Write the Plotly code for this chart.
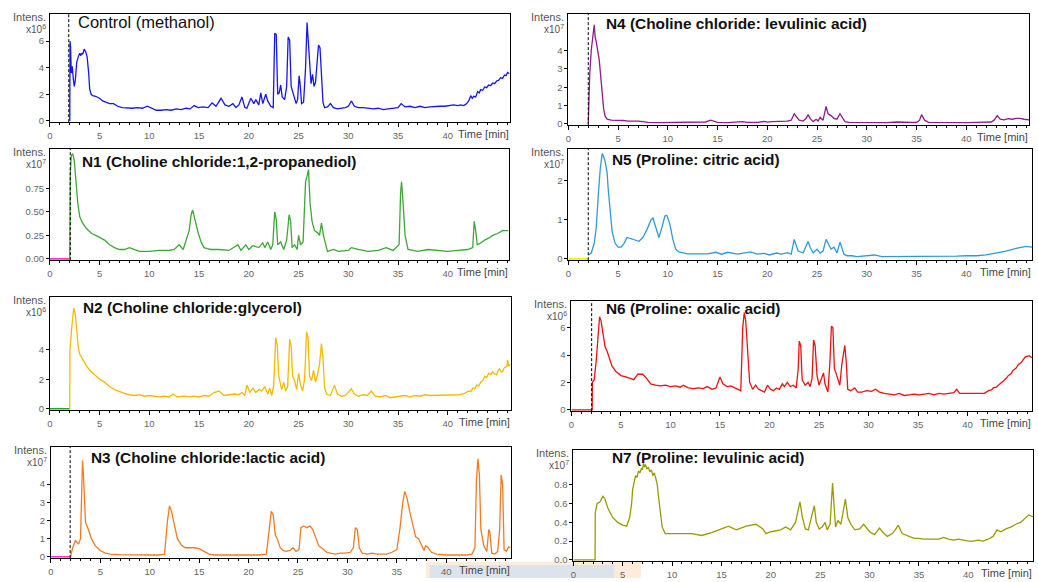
import plotly.graph_objects as go

# ---------------- data (retention time in min, intensity in axis units) ----------------
CONTROL_T = [
    2.0, 2.03, 2.08, 2.15, 2.25, 2.35, 2.45, 2.55, 2.7, 2.85,
    3.0, 3.1, 3.2, 3.3, 3.45, 3.6, 3.75, 3.9, 4.0, 4.15,
    4.3, 4.6, 5.0, 5.3, 5.7, 6.0, 6.4, 6.8, 7.3, 7.8,
    8.3, 8.8, 9.3, 9.8, 10.2, 10.7, 11.2, 11.7, 12.2, 12.7,
    13.2, 13.7, 14.1, 14.5, 14.9, 15.4, 15.9, 16.3, 16.7, 17.2,
    17.6, 18.0, 18.4, 18.7, 19.0, 19.3, 19.6, 19.8, 20.2, 20.5,
    20.7, 21.0, 21.2, 21.4, 21.7, 21.9, 22.2, 22.45, 22.6, 22.75,
    22.9, 23.05, 23.2, 23.35, 23.6, 23.8, 23.95, 24.1, 24.25, 24.5,
    24.75, 24.9, 25.05, 25.15, 25.3, 25.5, 25.7, 25.85, 25.95, 26.1,
    26.25, 26.4, 26.55, 26.7, 26.85, 27.0, 27.15, 27.3, 27.45, 27.6,
    27.9, 28.2, 28.5, 28.9, 29.3, 29.7, 30.0, 30.3, 30.6, 31.0,
    31.5, 32.0, 32.5, 33.0, 33.5, 34.0, 34.5, 35.0, 35.3, 35.7,
    36.2, 36.7, 37.2, 37.7, 38.2, 38.7, 39.2, 39.7, 40.2, 40.6,
    41.0, 41.3, 41.6, 41.9, 42.1, 42.3, 42.45, 42.6, 42.8, 43.0,
    43.15, 43.3, 43.5, 43.7, 43.9, 44.1, 44.3, 44.5, 44.7, 44.9,
    45.1, 45.3, 45.5, 45.7, 45.85, 46.0, 46.2]
CONTROL_Y = [
    0.0, 6.0, 5.6, 3.6, 4.1, 3.2, 2.6, 3.0, 4.4, 4.8,
    5.1, 4.9, 5.1, 5.0, 5.4, 5.2, 4.8, 3.6, 2.4, 2.0,
    1.9, 1.85, 1.7, 1.5, 1.4, 1.3, 1.3, 1.1, 1.0, 0.95,
    0.95, 1.0, 0.95, 1.1, 0.95, 0.8, 0.8, 0.85, 0.8, 0.9,
    0.85, 0.95, 0.9, 1.15, 1.0, 1.05, 1.0, 1.35, 1.1, 1.7,
    1.2, 1.1, 1.3, 1.0, 1.2, 1.8, 1.0, 0.95, 1.7, 1.3,
    1.6, 1.2, 2.1, 1.3, 2.0, 1.5, 1.1, 1.0, 6.6, 6.5,
    2.0, 2.1, 2.7, 1.8, 1.6, 2.6, 6.3, 6.1, 2.6, 2.0,
    1.3, 1.6, 3.4, 2.8, 1.3, 1.4, 4.0, 7.4, 6.2, 3.8,
    2.8, 3.5, 2.6, 2.9, 4.5, 5.7, 5.5, 3.0, 1.4, 1.0,
    1.05, 1.3, 1.0, 0.9, 0.95, 1.0, 1.1, 1.5, 1.1, 1.0,
    1.0, 0.95, 0.9, 0.95, 0.85, 0.9, 0.95, 1.0, 1.3, 1.05,
    1.1, 1.0, 1.1, 1.0, 1.05, 1.1, 1.1, 1.1, 1.15, 1.2,
    1.15, 1.2, 1.15, 1.3, 1.5, 1.9, 1.7, 1.85, 1.8, 2.2,
    2.1, 2.35, 2.3, 2.55, 2.5, 2.7, 2.65, 2.85, 2.8, 3.0,
    3.05, 3.25, 3.2, 3.45, 3.4, 3.65, 3.55]

N4_T = [
    2.0, 2.05, 2.15, 2.3, 2.45, 2.6, 2.7, 2.8, 2.95, 3.1,
    3.25, 3.4, 3.55, 3.7, 3.9, 4.3, 5.0, 5.5, 6.0, 6.5,
    7.0, 7.5, 8.0, 9.0, 10.0, 11.0, 12.0, 13.0, 13.8, 14.3,
    14.6, 15.0, 16.0, 17.0, 17.5, 18.0, 19.0, 19.7, 20.0, 20.5,
    21.0, 21.5, 22.0, 22.4, 22.7, 22.9, 23.2, 23.6, 23.9, 24.1,
    24.3, 24.6, 24.9, 25.1, 25.3, 25.6, 25.9, 26.1, 26.4, 26.7,
    27.0, 27.3, 27.5, 27.8, 28.2, 29.0, 30.0, 31.0, 32.0, 33.0,
    33.5, 34.0, 34.5, 35.0, 35.3, 35.5, 35.8, 36.2, 37.0, 38.0,
    39.0, 40.0, 41.0, 42.0, 42.5, 42.8, 43.1, 43.4, 43.8, 44.2,
    44.6, 45.0, 45.4, 45.8, 46.3]
N4_Y = [
    0.0, 1.5, 2.7, 4.0, 4.6, 5.4, 4.7, 4.5, 4.0, 3.5,
    2.6, 1.6, 0.8, 0.4, 0.25, 0.2, 0.2, 0.18, 0.15, 0.17,
    0.15, 0.12, 0.08, 0.07, 0.08, 0.07, 0.07, 0.08, 0.1, 0.2,
    0.15, 0.08, 0.07, 0.08, 0.12, 0.08, 0.08, 0.13, 0.09, 0.12,
    0.13, 0.12, 0.15, 0.2, 0.55, 0.4, 0.2, 0.15, 0.3, 0.5,
    0.3, 0.12, 0.25, 0.15, 0.35, 0.2, 0.95, 0.55, 0.45, 0.3,
    0.25, 0.55, 0.4, 0.12, 0.08, 0.07, 0.07, 0.08, 0.07, 0.1,
    0.08, 0.07, 0.08, 0.08, 0.2, 0.5, 0.2, 0.08, 0.07, 0.07,
    0.08, 0.07, 0.08, 0.08, 0.1, 0.2, 0.45, 0.25, 0.22, 0.28,
    0.25, 0.3, 0.3, 0.25, 0.22]

N1_T = [
    2.0, 2.05, 2.15, 2.3, 2.45, 2.6, 2.8, 3.0, 3.3, 3.7,
    4.2, 4.8, 5.5, 6.0, 6.5, 7.0, 7.5, 8.0, 8.5, 9.0,
    10.0, 11.0, 12.0, 12.5, 13.0, 13.4, 14.0, 14.2, 14.35, 14.6,
    14.9, 15.2, 15.5, 15.8, 16.2, 17.0, 18.0, 18.9, 19.2, 19.7,
    20.0, 20.4, 21.0, 21.4, 21.6, 21.9, 22.2, 22.4, 22.6, 22.75,
    22.9, 23.2, 23.5, 23.8, 24.05, 24.2, 24.35, 24.6, 24.85, 25.0,
    25.2, 25.45, 25.7, 25.85, 26.0, 26.15, 26.35, 26.6, 26.9, 27.1,
    27.3, 27.5, 27.7, 27.9, 28.5, 29.0, 30.0, 30.3, 31.0, 32.0,
    33.0, 33.8, 34.5, 35.1, 35.25, 35.35, 35.5, 35.7, 36.0, 37.0,
    38.0, 39.0, 40.0, 41.0, 42.0, 42.5, 42.65, 42.8, 42.95, 43.3,
    43.7, 44.1, 44.5, 45.0, 45.5, 46.1]
N1_Y = [
    0.0, 0.9, 1.1, 1.12, 1.05, 0.85, 0.6, 0.45, 0.38, 0.32,
    0.27, 0.24, 0.2, 0.15, 0.12, 0.1, 0.1, 0.12, 0.1, 0.08,
    0.08, 0.09, 0.09, 0.1, 0.15, 0.1, 0.3, 0.47, 0.52, 0.4,
    0.28, 0.18, 0.12, 0.11, 0.1, 0.1, 0.09, 0.15, 0.09, 0.15,
    0.1, 0.14, 0.12, 0.17, 0.12, 0.18, 0.1, 0.15, 0.5, 0.42,
    0.15, 0.18, 0.1, 0.2, 0.47, 0.4, 0.12, 0.15, 0.1, 0.25,
    0.15, 0.18, 0.82, 0.88, 0.95, 0.6, 0.4, 0.3, 0.28, 0.25,
    0.38, 0.25, 0.15, 0.08, 0.1, 0.08, 0.09, 0.12, 0.1, 0.08,
    0.09, 0.12, 0.09, 0.15, 0.7, 0.82, 0.6, 0.25, 0.1, 0.08,
    0.1, 0.09, 0.08, 0.09, 0.1, 0.12, 0.4, 0.3, 0.15, 0.17,
    0.2, 0.22, 0.25, 0.27, 0.3, 0.3]

N5_T = [
    2.0, 2.3, 2.6, 2.8, 3.0, 3.2, 3.4, 3.5, 3.7, 3.9,
    4.0, 4.2, 4.4, 4.7, 5.0, 5.3, 5.6, 5.9, 6.3, 6.7,
    7.1, 7.5, 7.9, 8.3, 8.5, 8.8, 9.1, 9.4, 9.7, 9.9,
    10.2, 10.5, 10.8, 11.1, 11.5, 12.0, 13.0, 14.0, 14.8, 15.4,
    16.0, 17.0, 17.6, 18.3, 19.0, 19.7, 20.2, 20.9, 21.4, 22.0,
    22.4, 22.7, 22.9, 23.1, 23.6, 24.1, 24.3, 24.6, 25.0, 25.3,
    25.6, 25.9, 26.1, 26.4, 26.7, 27.0, 27.3, 27.5, 27.7, 28.0,
    28.5, 29.0, 30.0, 30.8, 31.5, 32.0, 33.0, 34.0, 35.0, 36.0,
    37.0, 38.0, 39.0, 40.0, 41.0, 42.0, 43.0, 44.0, 45.0, 46.0,
    46.6]
N5_Y = [
    0.1, 0.15, 0.4, 0.8, 1.6, 2.3, 2.7, 2.65, 2.5, 2.2,
    1.8, 1.2, 0.7, 0.4, 0.3, 0.3, 0.4, 0.55, 0.52, 0.5,
    0.45, 0.55, 0.75, 1.0, 1.05, 0.8, 0.55, 0.8, 1.1, 1.12,
    0.9, 0.5, 0.25, 0.18, 0.15, 0.13, 0.13, 0.13, 0.17, 0.12,
    0.17, 0.12, 0.15, 0.18, 0.12, 0.14, 0.1, 0.15, 0.12, 0.16,
    0.12, 0.5, 0.35, 0.2, 0.15, 0.45, 0.3, 0.15, 0.25, 0.15,
    0.2, 0.5, 0.4, 0.25, 0.3, 0.15, 0.43, 0.3, 0.12, 0.08,
    0.08, 0.06, 0.08, 0.1, 0.06, 0.06, 0.06, 0.06, 0.06, 0.06,
    0.06, 0.07, 0.07, 0.08, 0.08, 0.1, 0.15, 0.2, 0.27, 0.32,
    0.3]

N2_T = [
    2.0, 2.02, 2.2, 2.4, 2.55, 2.7, 2.85, 3.0, 3.3, 3.6,
    4.0, 4.5, 5.0, 5.5, 6.0, 6.5, 7.0, 7.5, 8.0, 8.5,
    9.0, 9.5, 10.0, 10.5, 11.0, 11.5, 12.0, 12.4, 12.8, 13.5,
    14.0, 14.5, 15.0, 15.5, 16.0, 16.5, 17.0, 17.5, 18.0, 18.5,
    19.0, 19.3, 19.6, 19.8, 20.1, 20.4, 20.7, 21.0, 21.3, 21.6,
    21.9, 22.1, 22.3, 22.5, 22.7, 22.85, 23.0, 23.3, 23.5, 23.7,
    23.9, 24.1, 24.25, 24.4, 24.6, 24.8, 25.0, 25.2, 25.4, 25.6,
    25.8, 25.95, 26.1, 26.3, 26.5, 26.7, 26.9, 27.1, 27.3, 27.45,
    27.6, 27.8, 28.2, 28.6, 28.9, 29.3, 29.7, 30.1, 30.3, 30.6,
    31.0, 31.5, 31.9, 32.3, 32.7, 33.2, 33.7, 34.2, 34.7, 35.2,
    35.7, 36.2, 36.7, 37.2, 37.7, 38.2, 38.7, 39.2, 39.7, 40.2,
    40.7, 41.2, 41.7, 41.9, 42.1, 42.3, 42.5, 42.7, 42.9, 43.1,
    43.3, 43.5, 43.7, 43.9, 44.1, 44.3, 44.5, 44.7, 44.9, 45.05,
    45.2, 45.35, 45.5, 45.65, 45.8, 45.95, 46.0, 46.1, 46.3]
N2_Y = [
    0.0, 4.0, 5.5, 6.8, 6.4, 5.2, 4.2, 3.7, 3.3, 3.0,
    2.6, 2.3, 2.0, 1.8, 1.5, 1.3, 1.15, 1.05, 0.95, 0.9,
    0.95, 0.85, 0.9, 0.85, 0.8, 0.85, 0.8, 1.0, 0.8, 0.85,
    0.8, 0.85, 0.8, 0.9, 0.85, 1.1, 1.2, 0.9, 0.95, 1.0,
    0.95, 1.1, 0.9, 1.6, 1.1, 1.4, 1.1, 1.3, 1.2, 1.5,
    1.0, 1.4, 0.9, 1.6, 4.8, 4.3, 2.2, 1.3, 1.8, 1.2,
    1.5, 4.7, 4.2, 2.2, 1.9, 1.3, 2.4, 1.6, 1.2, 2.0,
    5.2, 4.8, 2.2, 1.9, 2.6, 1.8, 2.3, 3.0, 4.4, 3.5,
    1.5, 1.0, 0.9, 1.6, 1.0, 0.85, 0.9, 1.2, 1.35, 1.0,
    0.85, 0.95, 0.9, 1.2, 0.85, 0.8, 0.9, 0.75, 0.8, 0.85,
    0.9, 0.8, 0.9, 0.85, 0.95, 0.9, 0.9, 0.95, 0.9, 0.9,
    0.95, 0.95, 1.05, 1.1, 1.2, 1.15, 1.4, 1.35, 1.6, 1.55,
    1.8, 1.9, 2.2, 2.1, 2.4, 2.3, 2.5, 2.35, 2.3, 2.6,
    2.7, 2.5, 2.5, 2.75, 2.8, 2.9, 3.3, 2.9, 3.0]

N6_T = [
    0.0, 2.1, 2.12, 2.3, 2.5, 2.7, 2.85, 3.0, 3.2, 3.4,
    3.6, 3.8, 4.1, 4.5, 5.0, 5.5, 6.0, 6.3, 6.7, 7.2,
    7.6, 8.0, 8.5, 9.0, 9.5, 10.0, 10.5, 11.0, 11.3, 11.8,
    12.3, 12.8, 13.3, 13.7, 14.2, 14.6, 15.0, 15.3, 15.7, 16.1,
    16.5, 16.9, 17.1, 17.3, 17.45, 17.6, 17.8, 18.0, 18.3, 18.6,
    18.9, 19.2, 19.5, 19.8, 20.1, 20.4, 20.7, 21.0, 21.3, 21.5,
    21.8, 22.1, 22.4, 22.7, 22.9, 23.0, 23.15, 23.3, 23.6, 23.9,
    24.1, 24.3, 24.45, 24.6, 24.8, 25.0, 25.3, 25.45, 25.6, 25.9,
    26.1, 26.25, 26.4, 26.55, 26.7, 26.9, 27.1, 27.3, 27.5, 27.6,
    27.75, 27.9, 28.2, 28.6, 28.9, 29.3, 29.8, 30.3, 30.7, 31.1,
    31.6, 32.1, 32.6, 33.1, 33.6, 34.1, 34.6, 35.1, 35.6, 36.1,
    36.6, 37.1, 37.6, 38.1, 38.6, 38.9, 39.2, 39.7, 40.2, 40.7,
    41.2, 41.7, 42.1, 42.4, 42.6, 42.9, 43.1, 43.4, 43.6, 43.9,
    44.1, 44.4, 44.6, 44.9, 45.1, 45.4, 45.6, 45.8, 46.0, 46.2,
    46.5]
N6_Y = [
    0.0, 0.0, 2.0, 2.2, 3.5, 5.5, 6.8, 6.5, 5.5, 4.6,
    4.3, 3.8, 3.2, 2.8, 2.5, 2.4, 2.3, 2.2, 2.6, 2.6,
    2.3, 1.9, 1.8, 1.75, 1.8, 1.7, 1.75, 1.65, 1.8, 1.6,
    1.55, 1.6, 1.55, 1.7, 1.5, 1.6, 2.4, 1.9, 1.7, 1.75,
    1.6, 1.5, 1.4, 6.0, 7.1, 6.5, 4.0, 2.0, 1.5, 1.8,
    1.5, 1.4, 1.3, 1.8, 1.5, 1.4, 1.6, 1.5, 1.9, 1.7,
    2.0, 1.7, 1.8, 1.6, 3.0, 5.0, 4.7, 2.2, 1.8, 2.0,
    1.7, 2.3, 5.1, 4.7, 2.5, 1.8, 2.4, 2.7, 1.9, 1.3,
    3.5, 6.1, 6.0, 3.0, 2.7, 2.2, 1.8, 3.3, 4.3, 4.7,
    3.5, 1.5, 1.4, 1.6, 1.3, 1.3, 1.4, 1.35, 1.5, 1.3,
    1.2, 1.15, 1.1, 1.2, 1.05, 1.1, 1.15, 1.1, 1.15, 1.2,
    1.1, 1.2, 1.15, 1.2, 1.25, 1.5, 1.2, 1.2, 1.2, 1.2,
    1.25, 1.2, 1.4, 1.45, 1.6, 1.65, 1.8, 1.95, 2.1, 2.3,
    2.5, 2.65, 2.9, 3.05, 3.3, 3.45, 3.7, 3.85, 3.9, 3.95,
    3.8]

N3_T = [
    2.0, 2.2, 2.5, 2.8, 3.0, 3.1, 3.2, 3.3, 3.4, 3.5,
    3.8, 4.1, 4.5, 5.0, 5.5, 6.0, 7.0, 8.0, 9.0, 10.0,
    11.0, 11.5, 11.8, 12.0, 12.2, 12.5, 12.8, 13.2, 13.6, 14.0,
    14.5, 15.0, 15.5, 16.0, 16.5, 17.0, 18.0, 19.0, 20.0, 21.0,
    21.8, 22.1, 22.3, 22.5, 22.7, 22.9, 23.2, 23.5, 23.8, 24.2,
    24.5, 24.8, 25.1, 25.3, 25.6, 25.9, 26.2, 26.5, 26.8, 27.1,
    27.5, 27.9, 28.3, 28.8, 29.3, 29.8, 30.3, 30.6, 30.8, 31.0,
    31.2, 31.5, 32.0, 32.5, 33.0, 34.0, 34.5, 35.0, 35.3, 35.6,
    35.8, 36.0, 36.3, 36.6, 36.9, 37.2, 37.5, 37.75, 37.9, 38.1,
    38.5, 39.0, 40.0, 41.0, 42.0, 42.6, 42.9, 43.05, 43.2, 43.35,
    43.5, 43.8, 44.1, 44.3, 44.4, 44.6, 44.9, 45.2, 45.4, 45.55,
    45.7, 45.85, 46.1, 46.3, 46.5]
N3_Y = [
    0.0, 0.5, 0.9, 0.7, 1.0, 3.0, 5.3, 4.5, 2.8, 1.9,
    1.5, 1.0, 0.6, 0.35, 0.2, 0.15, 0.12, 0.1, 0.1, 0.1,
    0.1, 0.15, 2.0, 2.8, 2.5, 1.8, 1.0, 0.65, 0.5, 0.5,
    0.5, 0.45, 0.3, 0.15, 0.1, 0.1, 0.1, 0.1, 0.1, 0.1,
    0.15, 1.5, 2.5, 2.3, 1.2, 1.0, 0.5, 0.35, 0.3, 0.35,
    0.5, 0.3, 0.4, 1.6, 1.7, 1.6, 1.7, 1.5, 1.0, 0.6,
    0.45, 0.25, 0.2, 0.15, 0.2, 0.2, 0.25, 0.5, 1.6, 1.5,
    0.5, 0.2, 0.15, 0.2, 0.15, 0.15, 0.25, 0.4, 1.5, 3.0,
    3.6, 3.3, 2.5, 1.8, 1.1, 1.0, 0.6, 0.35, 0.6, 0.55,
    0.25, 0.15, 0.1, 0.1, 0.1, 0.15, 0.5, 4.2, 5.4, 4.5,
    1.5, 0.6, 0.3, 1.5, 1.4, 0.2, 0.15, 0.3, 1.5, 4.5,
    4.0, 0.4, 0.3, 0.55, 0.5]

N7_T = [
    0.0, 2.2, 2.22, 2.4, 2.7, 3.0, 3.2, 3.5, 4.0, 4.5,
    5.0, 5.4, 5.7, 5.9, 6.0, 6.15, 6.3, 6.45, 6.6, 6.75,
    6.9, 7.0, 7.1, 7.2, 7.3, 7.45, 7.6, 7.75, 7.9, 8.05,
    8.2, 8.35, 8.5, 8.65, 8.8, 9.0, 9.3, 10.0, 11.0, 12.0,
    13.0,
    14.0, 15.0, 15.7, 16.5, 17.5, 18.5, 19.2, 19.5, 20.0, 21.0,
    21.5, 22.0, 22.5, 22.95, 23.2, 23.5, 23.8, 24.1, 24.4, 24.6,
    24.9, 25.2, 25.5, 25.7, 26.0, 26.25, 26.4, 26.55, 26.8, 27.1,
    27.55, 27.8, 28.1, 28.5, 29.0, 29.4, 30.0, 30.5, 31.0, 31.3,
    31.8, 32.3, 32.6, 32.9, 33.3, 34.0, 34.5, 35.0, 35.5, 36.0,
    36.5, 37.0, 37.5, 38.0, 38.5, 39.0, 39.5, 40.0, 40.5, 41.0,
    41.5, 42.0, 42.5, 42.9, 43.3, 43.8, 44.3, 44.8, 45.3, 45.8,
    46.1, 46.55]
N7_Y = [
    0.0, 0.0, 0.5, 0.6, 0.62, 0.68, 0.65, 0.55, 0.45, 0.4,
    0.37, 0.36, 0.45, 0.6, 0.75, 0.82, 0.9, 0.88, 0.95, 0.93,
    0.98, 0.96, 1.03, 0.99, 1.02, 0.97, 0.99, 0.94, 0.96, 0.9,
    0.93, 0.87, 0.8, 0.65, 0.5, 0.35, 0.28, 0.28, 0.28, 0.28,
    0.26,
    0.29, 0.33, 0.36, 0.32, 0.36, 0.38, 0.33, 0.28, 0.3, 0.32,
    0.35, 0.32, 0.4, 0.62, 0.45, 0.33, 0.32, 0.45, 0.58, 0.4,
    0.33, 0.35, 0.4, 0.32, 0.38, 0.82, 0.6, 0.35, 0.42, 0.38,
    0.65, 0.45, 0.38, 0.32, 0.33, 0.38, 0.3, 0.27, 0.34, 0.3,
    0.25, 0.28, 0.32, 0.37, 0.28, 0.25, 0.23, 0.23, 0.22, 0.22,
    0.22, 0.22, 0.24, 0.22, 0.21, 0.22, 0.21, 0.2, 0.2, 0.21,
    0.2, 0.22, 0.25, 0.32, 0.3, 0.33, 0.35, 0.38, 0.4, 0.45,
    0.48, 0.46]

# pre-run segment (0-2 min) drawn on the baseline in some traces
PRERUN_T = [0.0, 2.0]
PRERUN_Y = [0.0, 0.0]

X_TICKS = [0, 5, 10, 15, 20, 25, 30, 35, 40]

# ---------------- panel configuration ----------------
W, H = 1038, 582
FONT = "Arial, Liberation Sans, sans-serif"

PANELS = [
    dict(title="Control (methanol)", bold=False, t=CONTROL_T, y=CONTROL_Y, color="#1515ee",
         box=(47, 508, 14, 123), title_pos=(73, 22), xmax=46.2, ymax=8.05,
         yticks=[0, 2, 4, 6], yfmt="d", exp="6", dead=1.9, prerun=None),
    dict(title="N4 (Choline chloride: levulinic acid)", bold=True, t=N4_T, y=N4_Y, color="#8e1c8c",
         box=(567, 1029, 14, 126), title_pos=(603, 24), xmax=46.3, ymax=6.0,
         yticks=[0, 1, 2, 3, 4], yfmt="d", exp="7", dead=2.0, prerun=None),
    dict(title="N1 (Choline chloride:1,2-propanediol)", bold=True, t=N1_T, y=N1_Y, color="#3da636",
         box=(47, 507, 150, 262), title_pos=(77, 163), xmax=46.1, ymax=1.17,
         yticks=[0, 0.25, 0.5, 0.75], yfmt=".2f", exp="7", dead=2.05, prerun="#ff33cc"),
    dict(title="N5 (Proline: citric acid)", bold=True, t=N5_T, y=N5_Y, color="#2e9ad8",
         box=(567, 1032, 150, 262), title_pos=(609, 161), xmax=46.6, ymax=2.82,
         yticks=[0, 1, 2], yfmt="d", exp="7", dead=2.0, prerun="#f2f200"),
    dict(title="N2 (Choline chloride:glycerol)", bold=True, t=N2_T, y=N2_Y, color="#f7b900",
         box=(47, 509, 299, 413), title_pos=(78, 310), xmax=46.3, ymax=7.55,
         yticks=[0, 2, 4], yfmt="d", exp="6", dead=None, prerun="#22aa22"),
    dict(title="N6 (Proline: oxalic acid)", bold=True, t=N6_T, y=N6_Y, color="#ee1111",
         box=(570, 1032, 303, 414), title_pos=(603, 311), xmax=46.5, ymax=7.95,
         yticks=[0, 2, 4, 6], yfmt="d", exp="6", dead=2.05, prerun=None),
    dict(title="N3 (Choline chloride:lactic acid)", bold=True, t=N3_T, y=N3_Y, color="#f27b22",
         box=(48, 509, 450, 562), title_pos=(86, 461), xmax=46.5, ymax=6.05,
         yticks=[0, 1, 2, 3, 4], yfmt="d", exp="7", dead=1.95, prerun="#ff33cc"),
    dict(title="N7 (Proline: levulinic acid)", bold=True, t=N7_T, y=N7_Y, color="#9a9a00",
         box=(572, 1033, 453, 565), title_pos=(609, 461), xmax=46.55, ymax=1.175,
         yticks=[0, 0.2, 0.4, 0.6, 0.8], yfmt=".1f", exp="7", dead=None, prerun=None),
]

def px_x(v):
    return v / W

def px_y(v):
    return 1 - v / H

fig = go.Figure()
layout = dict(
    width=W, height=H, margin=dict(l=0, r=0, t=0, b=0),
    paper_bgcolor="white", plot_bgcolor="rgba(0,0,0,0)",
    showlegend=False, font=dict(family=FONT, color="#555"),
)
annotations = []
shapes = []

# screenshot artefact at bottom centre
shapes.append(dict(type="rect", xref="paper", yref="paper", layer="below",
                   x0=px_x(424), x1=px_x(640), y0=0, y1=px_y(566),
                   fillcolor="#fcecd9", line=dict(width=0)))
shapes.append(dict(type="rect", xref="paper", yref="paper", layer="below",
                   x0=px_x(428), x1=px_x(613), y0=0, y1=px_y(569),
                   fillcolor="#dde3ea", line=dict(width=0)))

for i, p in enumerate(PANELS, start=1):
    sfx = "" if i == 1 else str(i)
    xr, yr = "x" + sfx, "y" + sfx
    L, R, T, B = p["box"]
    ymin = -0.012 * p["ymax"]

    if p["prerun"]:
        fig.add_trace(go.Scatter(x=PRERUN_T, y=PRERUN_Y, mode="lines", xaxis=xr, yaxis=yr,
                                 line=dict(color=p["prerun"], width=1.6), hoverinfo="skip"))
    fig.add_trace(go.Scatter(x=p["t"], y=p["y"], mode="lines", xaxis=xr, yaxis=yr,
                             line=dict(color=p["color"], width=1.3), hoverinfo="skip"))

    common = dict(showline=True, linecolor="black", linewidth=1, mirror=True,
                  showgrid=False, zeroline=False, ticks="outside", tickcolor="black",
                  tickfont=dict(family=FONT, size=9.5, color="#666"), layer="below traces")
    layout["xaxis" + sfx] = dict(
        domain=[px_x(L), px_x(R)], range=[0, p["xmax"]], anchor=yr,
        tickvals=X_TICKS, ticklen=4, tickwidth=1,
        minor=dict(dtick=1, ticklen=2, ticks="outside", tickcolor="black"), **common)
    layout["yaxis" + sfx] = dict(
        domain=[px_y(B), px_y(T)], range=[ymin, p["ymax"]], anchor=xr,
        tickvals=p["yticks"], tickformat=p["yfmt"], ticklen=3, tickwidth=1, **common)

    if p["dead"] is not None:
        shapes.append(dict(type="line", xref=xr, yref=yr + " domain",
                           x0=p["dead"], x1=p["dead"], y0=0, y1=1,
                           line=dict(color="black", width=1, dash="3px,2px")))

    tx, ty = p["title_pos"]
    txt = "<b>%s</b>" % p["title"] if p["bold"] else p["title"]
    annotations.append(dict(xref="paper", yref="paper", x=px_x(tx), y=px_y(ty),
                            xanchor="left", yanchor="middle", showarrow=False, text=txt,
                            font=dict(family=FONT, size=16.5 if not p["bold"] else 15.4,
                                      color="#111")))
    annotations.append(dict(xref="paper", yref="paper", x=px_x(L - 2), y=px_y(T + 3),
                            xanchor="right", yanchor="middle", showarrow=False, text="Intens.",
                            font=dict(family=FONT, size=11, color="#555")))
    annotations.append(dict(xref="paper", yref="paper", x=px_x(L - 2), y=px_y(T + 15),
                            xanchor="right", yanchor="middle", showarrow=False,
                            text="x10<sup>%s</sup>" % p["exp"],
                            font=dict(family=FONT, size=10, color="#555")))
    annotations.append(dict(xref="paper", yref="paper", x=px_x(R + 1), y=px_y(B + 12),
                            xanchor="right", yanchor="middle", showarrow=False, text="Time [min]",
                            font=dict(family=FONT, size=11, color="#444")))

layout["annotations"] = annotations
layout["shapes"] = shapes
fig.update_layout(**layout)
fig.write_html("out.html", config={"displayModeBar": False},
               post_script="document.body.style.margin='0px';")
